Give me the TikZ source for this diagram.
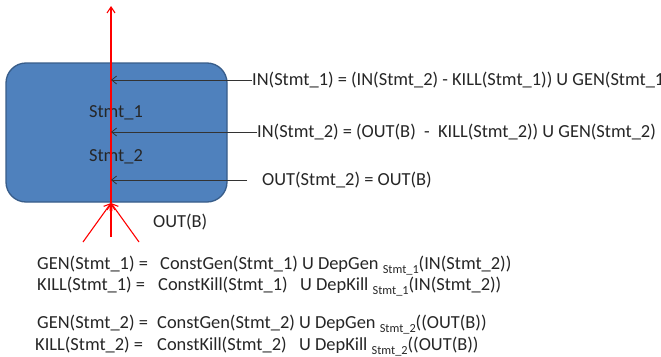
\documentclass[tikz,border=0pt]{standalone}
\usepackage{fontspec}
\setmainfont{Carlito}
\usetikzlibrary{arrows.meta}
\definecolor{blockfill}{RGB}{79,129,189}
\definecolor{blockedge}{RGB}{56,93,138}
\newcommand\lowsub[1]{\raisebox{-4pt}{\fontsize{12.3}{12}\selectfont #1}}
\tikzset{
  blockbox/.style={draw=blockedge, fill=blockfill, line width=1.3pt, rounded corners=20pt, inner sep=0pt},
  lbl/.style={inner sep=0pt, font=\fontsize{18.4}{20}\selectfont, text=black!85},
  eqn/.style={lbl, anchor=base west},
  flow/.style={draw=red, line width=1.1pt, -{Straight Barb[length=6pt,width=8pt]}},
  feed/.style={draw=black!80, line width=0.8pt, -{Straight Barb[length=5pt,width=8pt]}}
}
\begin{document}
\begin{tikzpicture}[x=1pt,y=-1pt]
\useasboundingbox[fill=white] (0,0) rectangle (661,356);

% basic block
\node (blk) [blockbox, minimum width=221pt, minimum height=139pt] at (116.5,132.5) {};
\node (s1) [lbl] at (116,113) {Stmt\_1};
\node (s2) [lbl] at (116,157) {Stmt\_2};

% red flow through the block
\coordinate (join) at (111,203);
\coordinate (top) at (111,6);
\coordinate (inL) at (83,242);
\coordinate (inM) at (111,237);
\coordinate (inR) at (139,242);
\draw[flow] (inL) -- (join);
\draw[flow] (inM) -- (join);
\draw[flow] (inR) -- (join);
\draw[flow] (join) -- (top);
\node (outb) [eqn] at (153,227) {OUT(B)};

% data-flow equations feeding the red line
\node (eq1) [eqn] at (252,85) {IN(Stmt\_1) = (IN(Stmt\_2) - KILL(Stmt\_1)) U GEN(Stmt\_1)};
\node (eq2) [eqn] at (257,137) {IN(Stmt\_2) = (OUT(B) \ - \ KILL(Stmt\_2)) U GEN(Stmt\_2)};
\node (eq3) [eqn] at (262,185) {OUT(Stmt\_2) = OUT(B)};
\coordinate (p1) at (111,80);
\coordinate (p2) at (111,132);
\coordinate (p3) at (111,180);
\coordinate (q3) at (247,180);
\draw[feed] (eq1.west |- p1) -- (p1);
\draw[feed] (eq2.west |- p2) -- (p2);
\draw[feed] (q3) -- (p3);

% GEN / KILL definitions
\node (g1l) [eqn] at (37,269) {GEN(Stmt\_1) =};
\node (g1r) [eqn] at (160,269) {ConstGen(Stmt\_1) U DepGen \lowsub{Stmt\_1}(IN(Stmt\_2))};
\node (k1l) [eqn] at (37,290) {KILL(Stmt\_1) =};
\node (k1r) [eqn] at (158,290) {ConstKill(Stmt\_1) \ \ U DepKill \lowsub{Stmt\_1}(IN(Stmt\_2))};
\node (g2l) [eqn] at (37,328) {GEN(Stmt\_2) =};
\node (g2r) [eqn] at (157,328) {ConstGen(Stmt\_2) U DepGen \lowsub{Stmt\_2}((OUT(B))};
\node (k2l) [eqn] at (35,350) {KILL(Stmt\_2) =};
\node (k2r) [eqn] at (157,350) {ConstKill(Stmt\_2) \ \ U DepKill \lowsub{Stmt\_2}((OUT(B))};
\end{tikzpicture}
\end{document}
